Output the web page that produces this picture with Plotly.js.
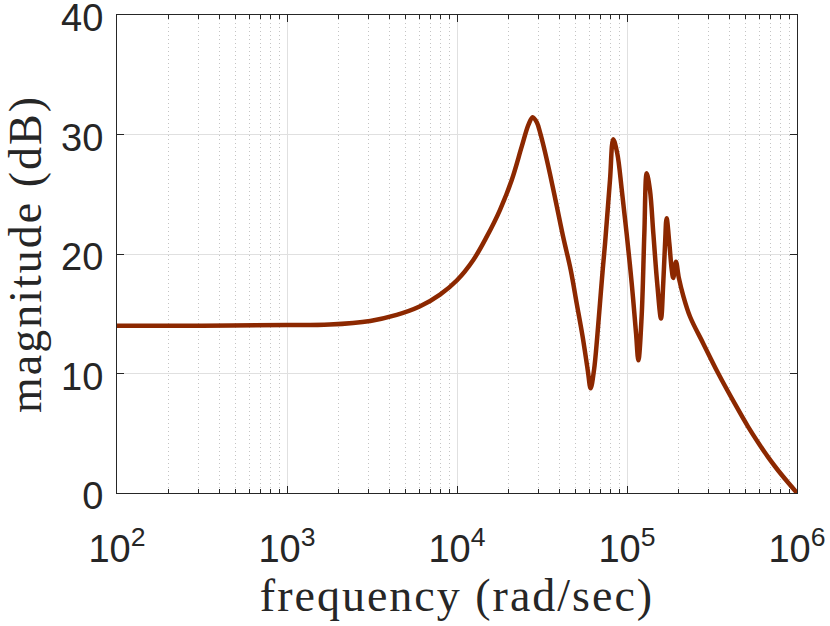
<!DOCTYPE html>
<html>
<head>
<meta charset="utf-8">
<script src="https://cdn.plot.ly/plotly-3.0.1.min.js"></script>
<style>
html,body{margin:0;padding:0;background:#fff;}
#plot{width:830px;height:626px;}
</style>
</head>
<body>
<div id="plot"></div>
<script>
// frequency (rad/sec)
const frequency = [100, 316, 1000, 1778, 3090, 4416, 6026, 7943, 10000, 12470, 14962, 17906, 20989, 24044, 26303, 27861, 29512, 30903, 32359, 35237, 38637, 42170, 46666, 50582, 54828, 58749, 61094, 63973, 66834, 69343, 71945, 74302, 79433, 82985, 87700, 93111, 99541, 106660, 112980, 116680, 121900, 126470, 130620, 136460, 142890, 150660, 158490, 163310, 167490, 171000, 177420, 183230, 187070, 194090, 201840, 214290, 234960, 281190, 344350, 441570, 512860, 605340, 676080, 758580, 870960, 1000000];
// magnitude (dB)
const magnitude = [14.0, 14.0, 14.05, 14.1, 14.4, 14.9, 15.6, 16.6, 17.8, 19.5, 21.45, 23.7, 26.2, 29.0, 30.8, 31.45, 31.0, 30.1, 29.0, 26.7, 24.0, 21.4, 18.66, 15.87, 13.08, 10.29, 8.76, 10.29, 13.08, 15.87, 18.66, 20.9, 26.2, 29.6, 28.4, 25.4, 21.7, 17.5, 13.4, 11.1, 14.75, 21.7, 26.75, 25.35, 21.7, 17.5, 14.6, 17.5, 20.9, 23.0, 20.9, 18.7, 18.0, 19.35, 18.0, 16.5, 14.75, 12.5, 10.0, 7.2, 5.6, 4.0, 3.0, 2.05, 1.0, 0.0];

const xTickVals = [100, 1000, 10000, 100000, 1000000];
const xTickText = ['10<sup>2</sup>', '10<sup>3</sup>', '10<sup>4</sup>', '10<sup>5</sup>', '10<sup>6</sup>'];
const xMinorVals = [];
for (const d of [100, 1000, 10000, 100000]) { for (let k = 2; k <= 9; k++) xMinorVals.push(d * k); }
const yTickVals = [0, 10, 20, 30, 40];

const axisColor = '#262626';
const tickFont = {family: 'Liberation Sans, Arial, sans-serif', size: 38, color: axisColor};
const titleFont = {family: 'Liberation Serif, Times New Roman, serif', size: 46, color: axisColor};

const trace = {
  x: frequency, y: magnitude, type: 'scatter', mode: 'lines',
  line: {color: '#8c2800', width: 4.5, shape: 'spline', smoothing: 1.0},
  hoverinfo: 'skip'
};

const layout = {
  width: 830, height: 626,
  margin: {l: 117, r: 33, t: 15, b: 133},
  paper_bgcolor: '#ffffff', plot_bgcolor: '#ffffff',
  showlegend: false,
  xaxis: {
    type: 'log', range: [2, 6],
    tickmode: 'array', tickvals: xTickVals, ticktext: xTickText,
    ticks: 'inside', ticklen: 7, tickcolor: axisColor, tickwidth: 1,
    showline: true, linecolor: axisColor, linewidth: 1, mirror: 'allticks',
    showgrid: true, gridcolor: '#e0e0e0', gridwidth: 1,
    zeroline: false,
    tickfont: tickFont, ticklabelstandoff: 22, ticklabeloverflow: 'allow',
    minor: {tickmode: 'array', tickvals: xMinorVals, ticks: 'inside', ticklen: 4, tickcolor: axisColor,
            showgrid: true, gridcolor: '#c4c4c4', griddash: '1px,3px', gridwidth: 1},
    title: {text: 'frequency (rad/sec)', font: titleFont, standoff: 9}
  },
  yaxis: {
    range: [0, 40],
    tickmode: 'array', tickvals: yTickVals,
    ticks: 'inside', ticklen: 7, tickcolor: axisColor, tickwidth: 1,
    showline: true, linecolor: axisColor, linewidth: 1, mirror: 'allticks',
    showgrid: true, gridcolor: '#e0e0e0', gridwidth: 1,
    zeroline: false,
    tickfont: tickFont, ticklabelstandoff: 5, ticklabeloverflow: 'allow',
    title: {text: 'magnitude (dB)', font: titleFont, standoff: 5}
  }
};

Plotly.newPlot('plot', [trace], layout, {staticPlot: true, displayModeBar: false}).then(function () {
  document.querySelectorAll('.xtitle').forEach(function (el) { el.style.letterSpacing = '2px'; });
  document.querySelectorAll('.ytitle').forEach(function (el) { el.style.letterSpacing = '2px'; });
  document.querySelectorAll('.ytick text').forEach(function (el) {
    const y = parseFloat(el.getAttribute('y') || '0');
    el.setAttribute('y', String(y + 3));
  });
});
</script>
</body>
</html>
